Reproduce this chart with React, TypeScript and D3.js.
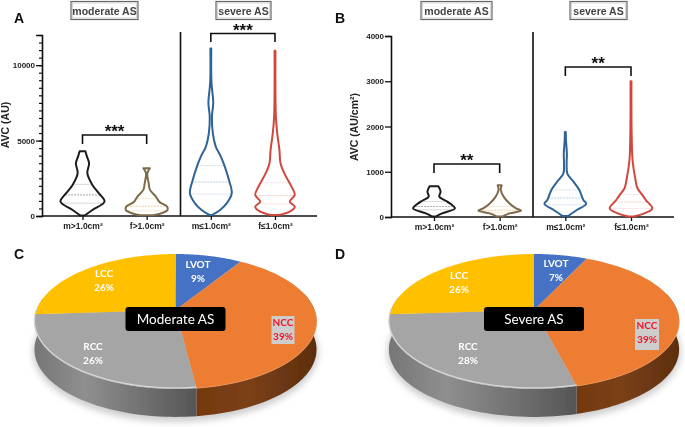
import React, { useEffect, useRef } from "react";
import * as d3 from "d3";

const WIDTH = 685;
const HEIGHT = 427;

const categories = ["m>1.0cm²", "f>1.0cm²", "m≤1.0cm²", "f≤1.0cm²"];
const colors = ["#1c1c1c", "#7c6a4c", "#2f6496", "#d2473e"];
const lightColors = ["#777777", "#e8b060", "#8fb0d0", "#eda8a0"];

// [value, relative density]
const avcModerateMale = [[30, 0.1], [400, 0.45], [950, 1], [1500, 0.75], [2060, 0.45], [2840, 0.22], [3500, 0.3], [3950, 0.2], [4290, 0.13]];
const avcModerateFemale = [[50, 0.3], [180, 0.67], [400, 0.95], [620, 0.93], [950, 0.57], [1290, 0.42], [1730, 0.15], [2180, 0.09], [2840, 0.03], [3170, 0.15]];
const avcSevereMale = [[70, 0.07], [400, 0.42], [840, 0.72], [1500, 0.95], [2400, 0.82], [3290, 0.63], [3950, 0.45], [4620, 0.22], [5500, 0.09], [6600, 0.05], [7500, 0.11], [8840, 0.03], [11100, 0.02]];
const avcSevereFemale = [[70, 0.18], [290, 0.67], [620, 0.9], [950, 0.67], [1400, 0.9], [1950, 0.75], [2840, 0.42], [3500, 0.25], [4400, 0.2], [5500, 0.1], [6600, 0.04], [10950, 0.02]];

const aviModerateMale = [[10, 0.08], [80, 0.37], [190, 0.95], [340, 0.6], [450, 0.24], [560, 0.3], [680, 0.2]];
const aviModerateFemale = [[10, 0.12], [80, 0.45], [140, 0.97], [190, 0.75], [300, 0.45], [450, 0.18], [600, 0.05], [700, 0.09]];
const aviSevereMale = [[20, 0.12], [155, 0.52], [290, 0.95], [375, 0.82], [600, 0.63], [780, 0.37], [960, 0.09], [1180, 0.06], [1400, 0.07], [1700, 0.03], [1880, 0.02]];
const aviSevereFemale = [[10, 0.12], [80, 0.6], [190, 0.97], [375, 0.67], [485, 0.52], [630, 0.3], [890, 0.18], [1260, 0.07], [1845, 0.03], [3000, 0.02]];

// lower quartile, median, upper quartile
const avcQuartiles = [[850, 1400, 2100], [350, 650, 1150], [1450, 2250, 3350], [800, 1350, 2200]];
const aviQuartiles = [[160, 230, 340], [90, 150, 230], [270, 420, 600], [190, 330, 500]];

const pieLabels = ["LVOT", "NCC", "RCC", "LCC"];
const pieColors = ["#4472c4", "#ed7d31", "#a5a5a5", "#ffc000"];
const moderateShares = [9, 39, 26, 26];
const severeShares = [7, 39, 28, 26];

const drawViolinPanel = (svg, o) => {
  const g = svg.append("g");
  const y = d3.scaleLinear().domain(o.domain).range([o.y0, o.y1]);
  const x = d3.scalePoint().domain(categories).range(o.centers);
  const w = d3.scaleLinear().domain([0, 1]).range([0, 22]);

  const axis = d3.axisLeft(y).tickValues(o.major).tickSize(6).tickFormat(d3.format("d"));
  const gy = g.append("g").attr("transform", `translate(${o.x0},0)`).call(axis);
  gy.select(".domain").attr("stroke", "#111").attr("stroke-width", 1.6);
  gy.selectAll(".tick line").attr("stroke", "#111").attr("stroke-width", 1.3);
  gy.selectAll("text")
    .attr("font-family", "Liberation Sans")
    .attr("font-weight", "bold")
    .attr("font-size", 8)
    .attr("fill", "#222")
    .attr("x", -7);
  if (o.minor) {
    g.append("g")
      .attr("transform", `translate(${o.x0},0)`)
      .call(d3.axisLeft(y).tickValues(o.minor).tickSize(3).tickFormat(() => ""))
      .call(s => s.select(".domain").remove())
      .selectAll(".tick line")
      .attr("stroke", "#111")
      .attr("stroke-width", 1.2);
  }

  const gx = g.append("g")
    .attr("transform", `translate(0,${o.y0})`)
    .call(d3.axisBottom(x).tickSize(4).tickSizeOuter(0));
  gx.select(".domain").attr("stroke", "#111").attr("stroke-width", 1.6).attr("d", `M${o.x0},0H${o.xEnd}`);
  gx.selectAll(".tick line").attr("stroke", "#111").attr("stroke-width", 1.3);
  gx.selectAll("text")
    .attr("font-family", "Liberation Sans")
    .attr("font-weight", "bold")
    .attr("font-size", 8.5)
    .attr("fill", "#222")
    .attr("y", 7);

  g.append("line")
    .attr("x1", o.divider).attr("x2", o.divider)
    .attr("y1", 32).attr("y2", o.y0)
    .attr("stroke", "#111").attr("stroke-width", 1.6);

  g.append("text")
    .attr("transform", `translate(${o.labelX},${o.labelY}) rotate(-90)`)
    .attr("text-anchor", "middle")
    .attr("font-family", "Liberation Sans")
    .attr("font-weight", "bold")
    .attr("font-size", 10.5)
    .attr("fill", "#222")
    .text(o.label);

  o.series.forEach((levels, i) => {
    const cx = x(categories[i]);
    const area = d3.area()
      .y(d => y(d[0]))
      .x0(d => cx - w(d[1]))
      .x1(d => cx + w(d[1]))
      .curve(d3.curveCatmullRom.alpha(0.5));
    const density = d3.scaleLinear().domain(levels.map(d => d[0])).range(levels.map(d => d[1]));

    o.quartiles[i].forEach((q, j) => {
      g.append("line")
        .attr("x1", cx - w(density(q)))
        .attr("x2", cx + w(density(q)))
        .attr("y1", y(q))
        .attr("y2", y(q))
        .attr("stroke", lightColors[i])
        .attr("stroke-width", 0.7)
        .attr("stroke-dasharray", j === 1 ? "2,1" : null)
        .attr("opacity", j === 1 ? 0.9 : 0.4);
    });

    g.append("path")
      .attr("d", area(levels))
      .attr("fill", "none")
      .attr("stroke", colors[i])
      .attr("stroke-width", 2)
      .attr("stroke-linejoin", "round");
  });

  o.brackets.forEach(b => {
    const x1 = x(categories[b.from]);
    const x2 = x(categories[b.to]);
    g.append("path")
      .attr("d", `M${x1},${b.bottom}V${b.top}H${x2}V${b.bottom}`)
      .attr("fill", "none")
      .attr("stroke", "#111")
      .attr("stroke-width", 1.6);
    g.append("text")
      .attr("x", (x1 + x2) / 2)
      .attr("y", b.top + 2)
      .attr("text-anchor", "middle")
      .attr("font-family", "Liberation Sans")
      .attr("font-weight", "bold")
      .attr("font-size", 17)
      .attr("fill", "#111")
      .text(b.stars);
  });

  o.titles.forEach(t => {
    g.append("rect")
      .attr("x", t.x).attr("y", 1.5)
      .attr("width", t.w).attr("height", 18)
      .attr("fill", "#fff")
      .attr("stroke", "#666").attr("stroke-width", 1.2);
    g.append("rect")
      .attr("x", t.x + 1.5).attr("y", 3)
      .attr("width", t.w - 3).attr("height", 15)
      .attr("fill", "none")
      .attr("stroke", "#bbb").attr("stroke-width", 0.6);
    g.append("text")
      .attr("x", t.x + t.w / 2).attr("y", 14.5)
      .attr("text-anchor", "middle")
      .attr("font-family", "Liberation Sans")
      .attr("font-weight", "bold")
      .attr("font-size", 10.5)
      .attr("fill", "#444")
      .text(t.text);
  });
};

const drawPie = (svg, defs, o) => {
  const g = svg.append("g");
  const pie = d3.pie().sort(null).value(d => d);
  const arcs = pie(o.shares);

  // tilted disc seen in perspective: the near side is drawn larger
  const k = 0.17;
  const project = (a, dy = 0) => {
    const u = Math.sin(a);
    const v = -Math.cos(a);
    const s = 1 / (1 - k * v);
    return [o.cx + o.rx * u * s, o.cy + 65.5 * v * s + dy];
  };
  const sample = (a0, a1, dy = 0) => d3.range(0, 61).map(i => project(a0 + ((a1 - a0) * i) / 60, dy));
  const line = d3.line();

  g.append("ellipse")
    .attr("cx", o.cx).attr("cy", o.cy + 42)
    .attr("rx", o.rx + 4).attr("ry", 70)
    .attr("fill", "#cfcfcf")
    .attr("filter", "url(#soft)");

  const wallPath = (a0, a1) => {
    const top = sample(a0, a1);
    const bottom = sample(a1, a0, o.depth);
    return line([...top, ...bottom]) + "Z";
  };

  const ncc = arcs[1];
  const rcc = arcs[2];
  g.append("path")
    .attr("d", wallPath(Math.PI * 0.42, ncc.endAngle))
    .attr("fill", `url(#wallOrange${o.id})`);
  g.append("path")
    .attr("d", wallPath(rcc.startAngle, Math.PI * 1.56))
    .attr("fill", `url(#wallGrey${o.id})`);

  const gradOrange = defs.append("linearGradient")
    .attr("id", `wallOrange${o.id}`)
    .attr("gradientUnits", "userSpaceOnUse")
    .attr("x1", project(ncc.endAngle)[0]).attr("x2", o.cx + o.rx).attr("y1", 0).attr("y2", 0);
  [["0", "#74390f"], ["0.45", "#7b4016"], ["1", "#5d2f0f"]].forEach(([off, c]) =>
    gradOrange.append("stop").attr("offset", off).attr("stop-color", c));
  const gradGrey = defs.append("linearGradient")
    .attr("id", `wallGrey${o.id}`)
    .attr("gradientUnits", "userSpaceOnUse")
    .attr("x1", o.cx - o.rx).attr("x2", project(rcc.startAngle)[0]).attr("y1", 0).attr("y2", 0);
  [["0", "#777777"], ["0.3", "#8f8f8f"], ["0.7", "#6e6e6e"], ["1", "#555555"]].forEach(([off, c]) =>
    gradGrey.append("stop").attr("offset", off).attr("stop-color", c));

  arcs.forEach((d, i) => {
    const pts = sample(d.startAngle, d.endAngle);
    g.append("path")
      .attr("d", line([[o.cx, o.cy], ...pts]) + "Z")
      .attr("fill", pieColors[i]);
  });

  g.append("path")
    .attr("d", line(sample(rcc.startAngle, Math.PI * 1.5, -1)))
    .attr("fill", "none")
    .attr("stroke", "#d6d6d6")
    .attr("stroke-width", 1.3);
  g.append("path")
    .attr("d", line(sample(Math.PI * 0.5, ncc.endAngle, 0)))
    .attr("fill", "none")
    .attr("stroke", "#f09a5e")
    .attr("stroke-width", 0.8);

  arcs.forEach((d, i) => {
    const p = o.labels[i];
    const isNcc = pieLabels[i] === "NCC";
    if (isNcc) {
      g.append("rect")
        .attr("x", p.x - p.bw / 2).attr("y", p.y - 10)
        .attr("width", p.bw).attr("height", p.bh)
        .attr("fill", "#cdcdcd");
    }
    const t = g.append("text")
      .attr("text-anchor", "middle")
      .attr("font-family", "Lato")
      .attr("font-weight", "bold")
      .attr("font-size", 10)
      .attr("fill", isNcc ? "#f01525" : "#fff");
    t.append("tspan").attr("x", p.x).attr("y", p.y).text(pieLabels[i]);
    t.append("tspan").attr("x", p.x).attr("y", p.y + 14).text(`${o.shares[i]}%`);
  });

  g.append("rect")
    .attr("x", o.cx - 50).attr("y", 307)
    .attr("width", 100).attr("height", 24)
    .attr("rx", 3)
    .attr("fill", "#000");
  g.append("text")
    .attr("x", o.cx).attr("y", 323.5)
    .attr("text-anchor", "middle")
    .attr("font-family", "Lato")
    .attr("font-size", 13.5)
    .attr("fill", "#fff")
    .text(o.title);
};

const App = () => {
  const ref = useRef(null);

  useEffect(() => {
    const root = d3.select(ref.current);
    root.selectAll("*").remove();
    const defs = root.append("defs");
    defs.append("filter").attr("id", "soft")
      .attr("x", "-10%").attr("y", "-10%").attr("width", "120%").attr("height", "120%")
      .append("feGaussianBlur").attr("stdDeviation", 3);
    defs.append("filter").attr("id", "photo")
      .attr("x", "0").attr("y", "0").attr("width", "100%").attr("height", "100%")
      .append("feGaussianBlur").attr("stdDeviation", 0.5);

    const svg = root.append("g").attr("filter", "url(#photo)");
    svg.append("rect").attr("width", WIDTH).attr("height", HEIGHT).attr("fill", "#fff");

    drawViolinPanel(svg, {
      domain: [0, 12000],
      y0: 216,
      y1: 35,
      x0: 42,
      xEnd: 317,
      centers: [82.5, 275],
      divider: 180.5,
      major: [0, 5000, 10000],
      minor: d3.range(0, 12001, 500),
      label: "AVC (AU)",
      labelX: 9,
      labelY: 125,
      series: [avcModerateMale, avcModerateFemale, avcSevereMale, avcSevereFemale],
      quartiles: avcQuartiles,
      brackets: [
        { from: 0, to: 1, top: 135, bottom: 144, stars: "***" },
        { from: 2, to: 3, top: 33.5, bottom: 42, stars: "***" },
      ],
      titles: [
        { x: 71, w: 67, text: "moderate AS" },
        { x: 216, w: 55, text: "severe AS" },
      ],
    });

    drawViolinPanel(svg, {
      domain: [0, 4000],
      y0: 217,
      y1: 36,
      x0: 391,
      xEnd: 674,
      centers: [434, 631],
      divider: 533,
      major: [0, 1000, 2000, 3000, 4000],
      label: "AVC  (AU/cm²)",
      labelX: 358,
      labelY: 127,
      series: [aviModerateMale, aviModerateFemale, aviSevereMale, aviSevereFemale],
      quartiles: aviQuartiles,
      brackets: [
        { from: 0, to: 1, top: 164, bottom: 173, stars: "**" },
        { from: 2, to: 3, top: 67, bottom: 76, stars: "**" },
      ],
      titles: [
        { x: 421, w: 71, text: "moderate AS" },
        { x: 570, w: 57, text: "severe AS" },
      ],
    });

    drawPie(svg, defs, {
      id: "C",
      shares: moderateShares,
      title: "Moderate AS",
      cx: 175.5,
      cy: 310,
      rx: 139,
      depth: 28,
      labels: [
        { x: 198, y: 268 },
        { x: 283, y: 326, bw: 23, bh: 28 },
        { x: 93, y: 350 },
        { x: 104, y: 277 },
      ],
    });

    drawPie(svg, defs, {
      id: "D",
      shares: severeShares,
      title: "Severe AS",
      cx: 534,
      cy: 310,
      rx: 143,
      depth: 28,
      labels: [
        { x: 556, y: 267 },
        { x: 647, y: 329, bw: 24, bh: 31 },
        { x: 468, y: 350 },
        { x: 459, y: 279 },
      ],
    });

    [["A", 14, 23], ["B", 335, 23], ["C", 14, 259], ["D", 335, 259]].forEach(([s, x, y]) => {
      svg.append("text")
        .attr("x", x).attr("y", y)
        .attr("font-family", "Liberation Sans")
        .attr("font-weight", "bold")
        .attr("font-size", 14)
        .attr("fill", "#111")
        .text(s);
    });
  }, []);

  return (
    <svg
      ref={ref}
      width={WIDTH}
      height={HEIGHT}
      style={{ position: "absolute", left: 0, top: 0, display: "block" }}
    />
  );
};

export default App;
